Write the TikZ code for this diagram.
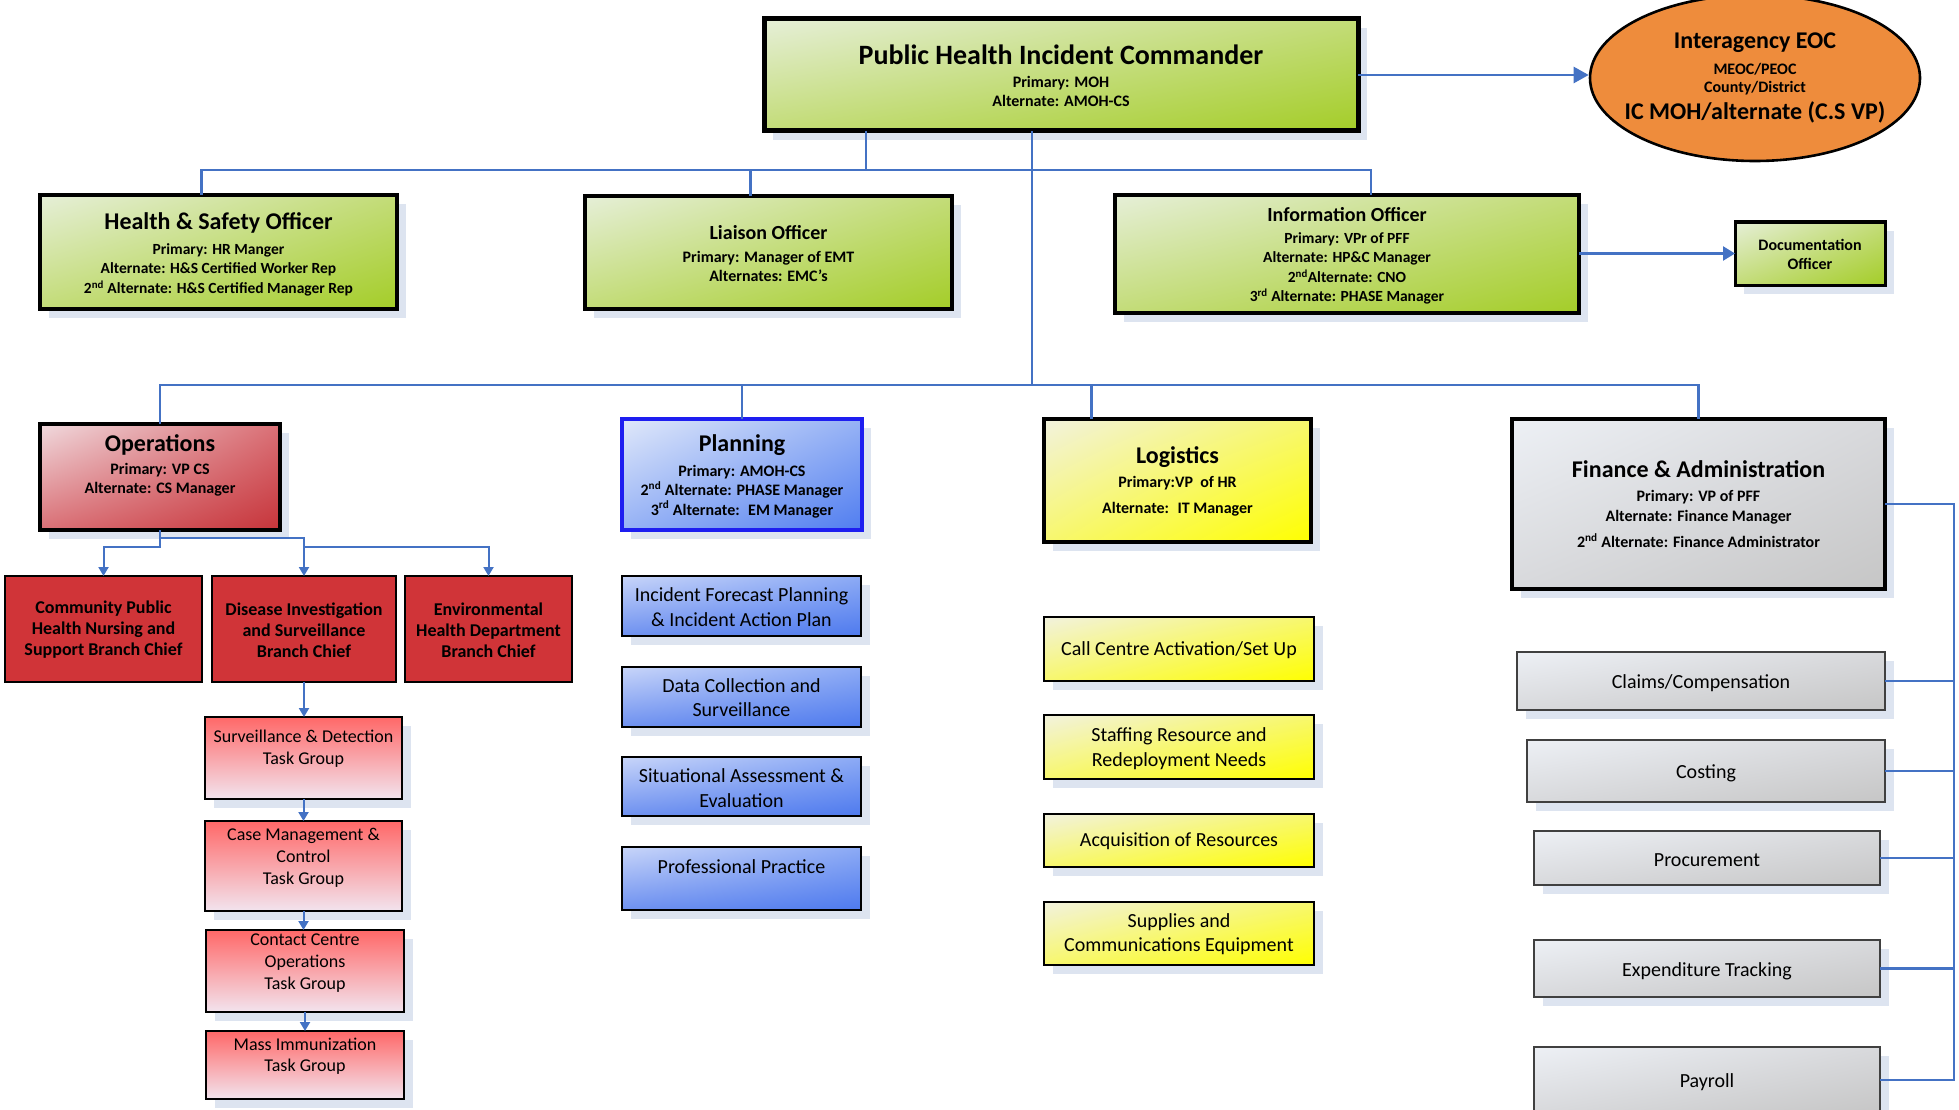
\documentclass[tikz,border=0pt]{standalone}
\usepackage{fontspec}
\setmainfont{Carlito}
\usetikzlibrary{shadows,shadings,arrows.meta,shapes.geometric}
\definecolor{gLight}{RGB}{230,239,216}
\definecolor{gMid}{RGB}{195,220,120}
\definecolor{gDark}{RGB}{164,205,40}
\definecolor{rLight}{RGB}{240,218,222}
\definecolor{rMid}{RGB}{218,112,118}
\definecolor{rDark}{RGB}{198,52,58}
\definecolor{rSolid}{RGB}{208,52,56}
\definecolor{tTop}{RGB}{255,104,104}
\definecolor{tBot}{RGB}{242,228,238}
\definecolor{bLight}{RGB}{224,232,250}
\definecolor{bMid}{RGB}{150,178,245}
\definecolor{bDark}{RGB}{80,125,240}
\definecolor{bBorder}{RGB}{30,30,240}
\definecolor{kUL}{RGB}{200,213,249}
\definecolor{kUR}{RGB}{140,170,245}
\definecolor{kLL}{RGB}{110,145,240}
\definecolor{kLR}{RGB}{78,122,238}
\definecolor{yLight}{RGB}{242,242,222}
\definecolor{yMid}{RGB}{247,247,110}
\definecolor{yDark}{RGB}{255,255,0}
\definecolor{grLight}{RGB}{237,240,245}
\definecolor{grMid}{RGB}{216,217,220}
\definecolor{grDark}{RGB}{198,198,198}
\definecolor{orangeE}{RGB}{238,140,60}
\definecolor{connc}{RGB}{68,114,196}
\definecolor{shadowc}{RGB}{221,228,240}
\newcommand{\mytitle}[2]{{\fontsize{#1}{#1}\selectfont\bfseries #2}}
\newcommand{\sups}[1]{\textsuperscript{#1}}
\begin{document}
\begin{tikzpicture}[x=1pt,y=-1pt,
  box/.style={rectangle, draw=black, inner sep=0pt, outer sep=0pt},
  shad/.style={copy shadow={fill=shadowc, draw=none, shadow xshift=9pt, shadow yshift=-9pt}},
  gbox/.style={box, shad, line width=3.5pt, upper left=gLight, upper right=gMid, lower left=gMid, lower right=gDark},
  opsbox/.style={box, shad, line width=3.5pt, upper left=rLight, upper right=rMid, lower left=rMid, lower right=rDark},
  redbox/.style={box, line width=2pt, fill=rSolid},
  taskbox/.style={box, shad, line width=2pt, top color=tTop, bottom color=tBot},
  planbox/.style={box, shad, draw=bBorder, line width=3.5pt, upper left=bLight, upper right=bMid, lower left=bMid, lower right=bDark},
  kidbox/.style={box, shad, line width=2pt, upper left=kUL, upper right=kUR, lower left=kLL, lower right=kLR},
  logbox/.style={box, shad, line width=3.5pt, upper left=yLight, upper right=yMid, lower left=yMid, lower right=yDark},
  ykid/.style={box, shad, line width=2pt, upper left=yLight, upper right=yMid, lower left=yMid, lower right=yDark},
  finbox/.style={box, shad, line width=3.5pt, upper left=grLight, upper right=grMid, lower left=grMid, lower right=grDark},
  gkid/.style={box, shad, draw=black!75, line width=2pt, upper left=grLight, upper right=grMid, lower left=grMid, lower right=grDark},
  txt/.style={align=center, inner sep=0pt},
  conn/.style={draw=connc, line width=2.4pt},
  conn2/.style={draw=connc, line width=2pt, -{Triangle[width=10pt,length=9pt]}},
  bigarr/.style={draw=connc, line width=2.4pt, -{Triangle[width=16pt,length=15pt]}}
]
\fill[white] (0,0) rectangle (1959,1110);
\useasboundingbox (0,0) rectangle (1959,1110);

% ---------- top ----------
\node[gbox, line width=5pt, minimum width=594pt, minimum height=112pt] (phic) at (1061,75) {};
\node[txt, font=\fontsize{16}{19}\selectfont\bfseries] (phict) at (1061,76) {\mytitle{28}{Public Health Incident Commander}\\[4pt]Primary: MOH\\Alternate: AMOH-CS};

\node[ellipse, draw=black, line width=2.6pt, fill=orangeE, minimum width=330pt, minimum height=166pt, inner sep=0pt] (eoc) at (1755,78) {};
\node[txt, font=\fontsize{16}{18}\selectfont\bfseries] (eoct) at (1755,78) {\mytitle{24}{Interagency EOC}\\[8pt]MEOC/PEOC\\County/District\\[6pt]\mytitle{24}{IC MOH/alternate (C.S VP)}};

\node[gbox, minimum width=357pt, minimum height=114pt] (hs) at (218.5,252) {};
\node[txt, font=\fontsize{15.5}{19.5}\selectfont\bfseries] (hst) at (218.5,254.5) {\mytitle{24}{Health \& Safety Officer}\\[5pt]Primary: HR Manger\\Alternate: H\&S Certified Worker Rep\\2\sups{nd} Alternate: H\&S Certified Manager Rep};

\node[gbox, minimum width=367pt, minimum height=113pt] (lia) at (768.5,252.5) {};
\node[txt, font=\fontsize{16}{19}\selectfont\bfseries] (liat) at (768.5,253.5) {\mytitle{20}{Liaison Officer}\\[4pt]Primary: Manager of EMT\\Alternates: EMC’s};

\node[gbox, minimum width=464pt, minimum height=118pt] (info) at (1347,254) {};
\node[txt, font=\fontsize{15.5}{19.5}\selectfont\bfseries] (infot) at (1347,256) {\mytitle{20}{Information Officer}\\[2.5pt]Primary: VPr of PFF\\Alternate: HP\&C Manager\\2\sups{nd}Alternate: CNO\\3\sups{rd} Alternate: PHASE Manager};

\node[gbox, line width=3pt, minimum width=150pt, minimum height=63pt] (doc) at (1810,253.5) {};
\node[txt, font=\fontsize{16}{19}\selectfont\bfseries] (doct) at (1810,254.5) {Documentation\\Officer};

% ---------- top connectors ----------
\draw[bigarr] (phic.east) -- (phic.east -| eoc.west);
\coordinate (j1) at (866,170);
\coordinate (j2) at (1032,385);
\draw[conn] (phic.south -| j1) -- (j1);
\draw[conn] ([xshift=-17pt]hs.north) |- (j1) -| ([xshift=24pt]info.north);
\draw[conn] ([xshift=-18pt]lia.north) -- ([xshift=-18pt]lia.north |- j1);
\draw[conn, -{Triangle[width=14pt,length=12pt]}] (info.east |- doc.west) -- (doc.west);
\draw[conn] (phic.south -| j2) -- (j2);

% ---------- operations ----------
\node[opsbox, minimum width=240pt, minimum height=106pt] (ops) at (160,477) {};
\node[txt, font=\fontsize{16}{19}\selectfont\bfseries] (opst) at (160,465) {\mytitle{24}{Operations}\\[4pt]Primary: VP CS\\Alternate: CS Manager};

\node[redbox, minimum width=197pt, minimum height=106pt] (com) at (103.5,629) {};
\node[txt, font=\fontsize{18}{21}\selectfont\bfseries] (comt) at (103.5,630) {Community Public\\Health Nursing and\\Support Branch Chief};
\node[redbox, minimum width=184pt, minimum height=106pt] (dis) at (304,629) {};
\node[txt, font=\fontsize{18}{21}\selectfont\bfseries] (dist) at (304,630) {Disease Investigation\\and Surveillance\\Branch Chief};
\node[redbox, minimum width=167pt, minimum height=106pt] (env) at (488.5,629) {};
\node[txt, font=\fontsize{18}{21}\selectfont\bfseries] (envt) at (488.5,630) {Environmental\\Health Department\\Branch Chief};

\node[taskbox, minimum width=197pt, minimum height=82pt] (surv) at (303.5,758) {};
\node[txt, font=\fontsize{18}{22}\selectfont] (survt) at (303.5,749) {Surveillance \& Detection\\Task Group};
\node[taskbox, minimum width=197pt, minimum height=90pt] (case) at (303.5,866) {};
\node[txt, font=\fontsize{18}{22}\selectfont] (caset) at (303.5,858) {Case Management \&\\Control\\Task Group};
\node[taskbox, minimum width=198pt, minimum height=82pt] (cont) at (305,971) {};
\node[txt, font=\fontsize{18}{22}\selectfont] (contt) at (305,963) {Contact Centre\\Operations\\Task Group};
\node[taskbox, minimum width=198pt, minimum height=68pt] (mass) at (305,1065) {};
\node[txt, font=\fontsize{18}{21}\selectfont] (masst) at (305,1056.5) {Mass Immunization\\Task Group};

\coordinate (oy1) at (160,538);
\coordinate (oy2) at (160,547);
\draw[conn2] (ops.south) -- (oy2) -| (com.north);
\draw[conn2] (ops.south) |- (dis.north |- oy1) -- (dis.north);
\draw[conn2] (dis.north |- oy2) -| (env.north);
\draw[conn2] (dis.south) -- (dis.south |- surv.north);
\draw[conn2] (surv.south) -- (surv.south |- case.north);
\draw[conn2] (case.south) -- (case.south |- cont.north);
\draw[conn2] (cont.south) -- (cont.south |- mass.north);

% ---------- planning ----------
\node[planbox, minimum width=240pt, minimum height=111pt] (plan) at (742,474.5) {};
\node[txt, font=\fontsize{16}{19.5}\selectfont\bfseries] (plant) at (742,476) {\mytitle{24}{Planning}\\[5.5pt]Primary: AMOH-CS\\2\sups{nd} Alternate: PHASE Manager\\3\sups{rd} Alternate:~ EM Manager};

\node[kidbox, minimum width=239pt, minimum height=60pt] (ifp) at (741.5,606) {};
\node[txt, font=\fontsize{20}{25}\selectfont] (ifpt) at (741.5,607.5) {Incident Forecast Planning\\\& Incident Action Plan};
\node[kidbox, minimum width=239pt, minimum height=60pt] (dcs) at (741.5,697) {};
\node[txt, font=\fontsize{20}{24}\selectfont] (dcst) at (741.5,698) {Data Collection and\\Surveillance};
\node[kidbox, minimum width=239pt, minimum height=59pt] (sae) at (741.5,786.5) {};
\node[txt, font=\fontsize{20}{25}\selectfont] (saet) at (741.5,788.5) {Situational Assessment \&\\Evaluation};
\node[kidbox, minimum width=239pt, minimum height=63pt] (pp) at (741.5,878.5) {};
\node[txt, font=\fontsize{20}{24}\selectfont] (ppt) at (741.5,867) {Professional Practice};

% ---------- logistics ----------
\node[logbox, minimum width=267pt, minimum height=123pt] (log) at (1177.5,480.5) {};
\node[txt, font=\fontsize{16}{19}\selectfont\bfseries] (logt) at (1177.5,481) {\mytitle{24}{Logistics}\\[5pt]Primary:VP~ of HR\\[7pt]Alternate:~ IT Manager};

\node[ykid, minimum width=270pt, minimum height=64pt] (cc) at (1179,649) {};
\node[txt, font=\fontsize{20}{25}\selectfont] (cct) at (1179,650) {Call Centre Activation/Set Up};
\node[ykid, minimum width=270pt, minimum height=64pt] (staff) at (1179,747) {};
\node[txt, font=\fontsize{20}{25}\selectfont] (stafft) at (1179,748.5) {Staffing Resource and\\Redeployment Needs};
\node[ykid, minimum width=270pt, minimum height=53pt] (acq) at (1179,840.5) {};
\node[txt, font=\fontsize{20}{25}\selectfont] (acqt) at (1179,841.5) {Acquisition of Resources};
\node[ykid, minimum width=270pt, minimum height=63pt] (sup) at (1179,933.5) {};
\node[txt, font=\fontsize{20}{24}\selectfont] (supt) at (1179,934.5) {Supplies and\\Communications Equipment};

% ---------- finance ----------
\node[finbox, minimum width=373pt, minimum height=170pt] (fin) at (1698.5,504) {};
\node[txt, font=\fontsize{16}{20}\selectfont\bfseries] (fint) at (1698.5,504) {\mytitle{24}{Finance \& Administration}\\[4pt]Primary: VP of PFF\\Alternate: Finance Manager\\[6pt]2\sups{nd} Alternate: Finance Administrator};

\node[gkid, minimum width=368pt, minimum height=58pt] (claims) at (1701,681) {};
\node[txt, font=\fontsize{20}{24}\selectfont] (claimst) at (1701,683) {Claims/Compensation};
\node[gkid, minimum width=358pt, minimum height=62pt] (cost) at (1706,771) {};
\node[txt, font=\fontsize{20}{24}\selectfont] (costt) at (1706,773) {Costing};
\node[gkid, minimum width=346pt, minimum height=54pt] (proc) at (1707,858) {};
\node[txt, font=\fontsize{20}{24}\selectfont] (proct) at (1707,860) {Procurement};
\node[gkid, minimum width=346pt, minimum height=57pt] (exp) at (1707,968.5) {};
\node[txt, font=\fontsize{20}{24}\selectfont] (expt) at (1707,971) {Expenditure Tracking};
\node[gkid, minimum width=346pt, minimum height=66pt] (pay) at (1707,1080) {};
\node[txt, font=\fontsize{20}{24}\selectfont] (payt) at (1707,1082) {Payroll};

% ---------- section connectors ----------
\draw[conn] (ops.north) |- (j2) -| (fin.north);
\draw[conn] (plan.north) -- (plan.north |- j2);
\draw[conn] ([xshift=-86pt]log.north) -- ([xshift=-86pt]log.north |- j2);

\coordinate (fb) at (1954,504);
\draw[conn] (fin.east) -- (fb) -- (fb |- pay.east) -- (pay.east);
\foreach \n in {claims,cost,proc,exp} \draw[conn] (\n.east) -- (\n.east -| fb);
\end{tikzpicture}
\end{document}
